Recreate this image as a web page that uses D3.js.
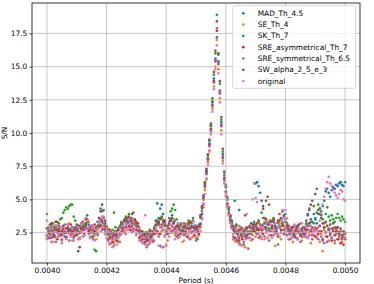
<!DOCTYPE html>
<html>
<head>
<meta charset="utf-8">
<script src="https://cdn.jsdelivr.net/npm/d3@7"></script>
<style>
  html, body { margin: 0; padding: 0; background: #fff; }
  svg { display: block; font-family: "DejaVu Sans", sans-serif; }
</style>
</head>
<body>
<div id="vis-scatter"></div>
<script>
// period grid: every series is sampled on the same periods
const periodStart = 0.004
const periodStep = 0.000005

const seriesNames = [
    "MAD_Th_4.5",
    "SE_Th_4",
    "SK_Th_7",
    "SRE_asymmetrical_Th_7",
    "SRE_symmetrical_Th_6.5",
    "SW_alpha_2_5_e_3",
    "original"
]

const madTh45 = [
    2.3, 2.6, 2.1, 2.9, 2.4, 2.2, 2.7, 2.5, 3.0, 2.3, 2.6, 2.8, 2.2, 2.5, 3.1, 2.7, 2.4, 2.9, 2.6, 2.3,
    2.5, 2.8, 3.0, 2.6, 3.2, 2.9, 3.5, 3.8, 3.1, 2.7, 3.0, 2.6, 2.4, 2.9, 3.3, 3.6, 4.1, 4.6, 4.2, 3.4,
    2.9, 2.4, 2.1, 2.5, 2.0, 2.3, 2.6, 2.2, 2.7, 2.9, 3.1, 2.8, 3.3, 3.5, 3.2, 3.6, 3.4, 3.0, 3.3, 3.1,
    3.0, 2.7, 2.5, 2.2, 2.4, 2.0, 2.3, 1.9, 2.2, 2.5, 2.1, 2.4, 2.7, 3.4, 4.7, 3.6, 4.3, 4.6, 3.9, 3.3,
    2.5, 2.8, 3.2, 3.5, 3.8, 3.3, 2.9, 2.6, 3.1, 2.8, 2.5, 2.7, 3.0, 2.6, 2.9, 3.2, 2.7, 3.0, 3.4, 2.9,
    2.9, 2.7, 3.1, 3.8, 4.5, 5.2, 6.2, 7.1, 8.0, 9.2, 10.6, 12.3, 14.1, 15.6, 17.2, 15.4, 13.2, 10.8, 8.4, 6.8,
    5.9, 5.0, 4.3, 3.7, 3.3, 3.0, 4.9, 3.1, 2.6, 4.2, 2.5, 2.8, 2.4, 2.7, 2.3, 2.6, 2.9, 3.2, 2.8, 3.1,
    6.2, 6.3, 6.0, 5.5, 4.9, 4.5, 3.2, 2.8, 3.1, 2.7, 3.3, 2.9, 3.4, 3.0, 2.6, 3.2, 2.9, 3.5, 3.1, 3.7,
    3.9, 3.2, 2.8, 2.5, 2.9, 2.6, 2.3, 2.7, 3.0, 2.6, 2.4, 2.8, 2.5, 2.9, 3.2, 3.8, 4.2, 3.5, 3.3, 3.9,
    3.5, 3.2, 3.9, 4.3, 4.1, 4.5, 4.9, 5.6, 5.8, 5.5, 5.2, 5.7, 5.9, 5.8, 6.1, 6.0, 6.2, 6.3, 6.1, 6.0,
    6.3
]

const seTh4 = [
    2.0, 2.7, 2.3, 1.8, 2.9, 2.5, 2.1, 3.0, 2.2, 2.6, 1.9, 2.4, 2.8, 2.1, 2.5, 3.2, 2.3, 1.9, 2.7, 2.4,
    2.6, 2.0, 2.9, 2.5, 2.2, 3.1, 3.6, 2.8, 3.3, 2.1, 2.5, 2.9, 2.3, 2.0, 2.7, 3.0, 3.4, 2.8, 3.7, 2.4,
    2.3, 2.8, 1.6, 2.0, 2.4, 1.7, 1.9, 2.5, 2.1, 1.8, 2.6, 3.1, 2.7, 2.4, 3.3, 2.9, 3.5, 2.6, 3.1, 3.4,
    3.1, 2.6, 2.9, 2.2, 1.8, 2.4, 1.6, 2.1, 2.5, 1.7, 2.0, 2.3, 1.9, 2.7, 3.2, 2.4, 2.9, 2.6, 3.4, 2.2,
    2.7, 1.9, 3.3, 2.6, 2.9, 3.5, 2.3, 2.8, 2.1, 3.0, 2.5, 1.8, 2.9, 2.4, 3.2, 2.1, 2.7, 3.3, 2.2, 2.6,
    2.1, 2.6, 2.3, 2.9, 3.6, 4.4, 5.7, 6.5, 7.8, 8.6, 10.1, 11.8, 13.5, 15.0, 17.0, 14.8, 12.6, 10.2, 7.9, 6.4,
    5.3, 4.5, 3.8, 3.3, 2.9, 2.0, 2.6, 1.8, 2.4, 3.0, 1.6, 2.2, 2.8, 1.4, 2.5, 2.1, 2.9, 1.9, 2.3, 2.7,
    2.2, 2.9, 2.4, 3.1, 2.0, 2.7, 3.3, 2.5, 2.1, 2.8, 3.4, 2.3, 2.6, 1.5, 2.9, 2.4, 3.2, 2.0, 2.7, 3.0,
    2.6, 3.1, 2.0, 2.5, 2.8, 1.8, 2.3, 2.9, 2.1, 2.6, 3.2, 1.9, 2.4, 2.7, 2.2, 3.0, 2.5, 1.7, 2.8, 2.3,
    2.9, 2.1, 2.6, 1.8, 2.4, 1.1, 2.7, 2.2, 3.0, 1.9, 2.5, 2.1, 2.8, 1.7, 2.4, 2.6, 2.0, 2.3, 1.8, 2.2,
    2.5
]

const skTh7 = [
    3.9, 2.8, 3.1, 2.7, 3.2, 2.9, 3.0, 3.3, 3.2, 3.5, 3.6, 4.0, 4.2, 4.4, 4.3, 4.5, 4.6, 4.6, 3.7, 3.4,
    3.1, 2.6, 2.9, 2.7, 3.0, 2.8, 3.2, 3.4, 2.9, 2.5, 2.6, 2.2, 1.2, 1.1, 2.4, 2.9, 3.1, 3.3, 3.0, 2.7,
    2.8, 2.6, 2.3, 2.4, 2.7, 4.0, 2.9, 2.5, 2.8, 3.0, 3.3, 3.0, 3.5, 3.7, 3.4, 3.9, 3.6, 3.2, 3.4, 3.3,
    3.2, 2.9, 2.6, 2.4, 2.6, 2.2, 2.5, 2.1, 2.4, 2.7, 2.3, 2.6, 2.9, 3.1, 3.4, 3.2, 3.6, 3.7, 3.4, 3.1,
    2.6, 3.0, 3.6, 4.1, 4.3, 4.6, 4.2, 3.5, 3.2, 2.9, 2.7, 2.9, 3.2, 2.8, 3.1, 3.4, 2.9, 3.2, 3.6, 3.0,
    3.0, 2.0, 2.9, 3.6, 4.3, 5.1, 6.1, 7.2, 8.3, 9.4, 10.5, 12.4, 14.4, 16.0, 18.9, 15.9, 13.7, 11.0, 8.6, 7.0,
    6.0, 5.0, 4.2, 3.7, 3.2, 2.7, 2.5, 2.8, 2.2, 1.9, 2.5, 2.2, 1.6, 2.3, 2.1, 2.6, 2.9, 2.4, 2.7, 3.3,
    3.0, 2.7, 3.4, 3.1, 4.0, 3.6, 3.2, 2.9, 3.3, 2.8, 3.4, 3.0, 3.6, 3.2, 2.8, 3.3, 3.0, 3.5, 3.2, 3.6,
    3.5, 3.0, 2.7, 2.4, 2.8, 2.5, 2.2, 2.6, 2.9, 2.5, 2.3, 2.7, 2.4, 2.8, 3.1, 2.7, 3.0, 3.3, 2.9, 3.2,
    3.6, 4.0, 4.6, 4.3, 3.8, 3.5, 3.2, 3.9, 4.4, 3.7, 3.4, 3.8, 3.5, 3.3, 3.6, 3.9, 3.6, 3.4, 3.7, 3.5,
    3.3
]

const sreAsymTh7 = [
    2.8, 2.1, 2.5, 3.1, 2.2, 2.7, 3.3, 2.0, 2.6, 2.9, 2.3, 3.0, 2.5, 2.1, 2.8, 2.4, 3.1, 2.6, 2.2, 2.9,
    2.3, 3.0, 2.5, 2.8, 3.3, 2.4, 3.0, 3.5, 2.6, 2.9, 2.2, 2.7, 3.1, 2.5, 2.9, 3.6, 3.0, 3.4, 2.8, 3.2,
    2.5, 2.0, 2.7, 2.2, 1.8, 2.5, 2.3, 1.9, 2.8, 2.4, 3.2, 2.6, 3.4, 2.9, 3.6, 3.0, 2.7, 3.3, 2.8, 3.5,
    2.7, 3.2, 2.1, 2.6, 2.0, 2.3, 1.8, 2.5, 1.9, 2.2, 2.6, 1.9, 2.4, 3.0, 2.6, 3.3, 2.4, 3.1, 2.7, 3.4,
    3.0, 2.4, 2.8, 3.4, 2.6, 3.2, 2.5, 3.0, 2.3, 2.7, 3.1, 2.4, 2.6, 3.0, 2.2, 2.8, 3.3, 2.5, 2.9, 2.3,
    2.7, 2.9, 2.4, 3.1, 3.9, 5.0, 6.0, 7.0, 8.1, 9.1, 10.3, 12.1, 13.9, 15.4, 17.7, 15.2, 13.0, 10.6, 8.2, 6.6,
    5.6, 4.7, 4.0, 3.5, 3.0, 2.8, 2.1, 2.5, 1.9, 2.7, 2.3, 2.0, 2.6, 2.2, 2.9, 2.4, 2.1, 2.8, 3.1, 2.6,
    2.5, 3.2, 2.7, 2.2, 3.0, 2.4, 2.9, 3.5, 2.6, 3.1, 2.3, 2.8, 3.3, 2.5, 2.9, 2.2, 3.4, 2.7, 3.0, 2.4,
    2.8, 2.3, 3.0, 2.6, 2.1, 2.9, 2.4, 2.7, 2.0, 3.1, 2.5, 2.2, 2.9, 2.4, 2.7, 2.1, 3.2, 2.6, 2.3, 2.8,
    2.2, 2.8, 2.4, 3.0, 2.6, 2.0, 2.9, 2.5, 2.2, 2.7, 2.4, 1.9, 2.6, 2.3, 2.8, 2.0, 2.4, 1.7, 2.1, 1.6,
    2.0
]

const sreSymTh65 = [
    2.2, 2.9, 2.6, 2.1, 2.4, 3.0, 1.8, 2.7, 2.3, 2.8, 2.0, 2.5, 3.1, 2.2, 2.6, 1.9, 2.8, 2.4, 2.1, 2.7,
    2.9, 2.4, 2.1, 3.2, 2.7, 2.3, 2.8, 3.3, 2.4, 2.7, 3.0, 2.0, 2.6, 2.9, 2.3, 3.1, 3.5, 2.7, 3.2, 2.5,
    2.8, 1.9, 2.4, 1.7, 2.2, 1.5, 2.1, 2.6, 1.8, 2.3, 2.8, 3.1, 2.5, 3.0, 2.7, 3.3, 2.9, 3.6, 2.6, 3.2,
    2.4, 2.9, 2.6, 1.9, 2.3, 1.7, 2.2, 1.4, 1.6, 2.0, 2.4, 1.8, 2.7, 2.5, 3.1, 2.2, 1.5, 2.9, 1.4, 3.2,
    1.5, 2.8, 3.3, 2.5, 3.0, 2.7, 3.4, 2.2, 2.9, 2.4, 3.2, 2.6, 2.3, 2.8, 3.1, 2.5, 2.0, 2.9, 2.6, 3.0,
    1.9, 2.5, 3.0, 3.2, 4.1, 4.6, 5.9, 6.9, 8.0, 9.0, 10.2, 12.0, 13.8, 15.5, 17.9, 15.3, 13.1, 10.5, 8.1, 6.5,
    5.5, 4.6, 3.9, 3.4, 2.9, 2.2, 2.8, 2.0, 2.5, 1.7, 2.9, 2.3, 1.8, 2.6, 2.1, 1.3, 2.4, 2.8, 2.0, 3.0,
    2.9, 2.4, 2.1, 2.8, 2.5, 3.1, 2.2, 2.7, 3.2, 1.9, 2.6, 3.0, 2.3, 2.8, 2.4, 1.6, 2.9, 2.5, 3.3, 2.7,
    2.4, 2.9, 2.6, 2.0, 2.7, 2.3, 3.0, 2.1, 2.8, 2.5, 1.8, 2.6, 2.9, 2.2, 2.5, 3.0, 2.3, 2.7, 2.0, 2.6,
    2.7, 2.3, 2.0, 2.6, 2.2, 1.9, 1.7, 2.5, 1.8, 2.8, 2.3, 2.1, 2.7, 1.9, 2.4, 2.9, 2.2, 2.6, 2.0, 2.4,
    2.1
]

const swAlpha25e3 = [
    2.8, 2.5, 2.4, 3.2, 2.6, 2.3, 2.9, 2.7, 2.8, 2.4, 2.6, 2.7, 2.5, 2.8, 2.9, 2.6, 2.7, 2.5, 2.8, 2.6,
    2.7, 1.1, 1.4, 2.6, 2.9, 2.7, 3.1, 3.3, 2.8, 2.6, 2.7, 2.5, 2.6, 2.8, 3.0, 3.3, 4.3, 4.1, 3.6, 3.0,
    3.0, 2.6, 2.3, 2.5, 2.2, 2.4, 2.6, 2.3, 2.7, 2.9, 3.2, 2.9, 3.4, 3.6, 3.3, 3.7, 3.5, 3.9, 4.0, 3.4,
    3.3, 3.0, 2.7, 2.3, 2.5, 2.1, 2.4, 2.0, 2.3, 2.6, 2.2, 2.5, 2.8, 3.0, 3.3, 3.1, 3.5, 3.6, 3.3, 3.0,
    2.4, 2.7, 3.1, 3.4, 3.6, 3.2, 2.8, 2.5, 3.0, 2.7, 2.4, 2.6, 2.9, 2.5, 2.8, 3.1, 2.6, 2.9, 3.3, 2.8,
    2.8, 2.6, 3.0, 3.7, 4.4, 5.3, 6.3, 7.3, 8.4, 9.5, 10.7, 12.6, 14.6, 16.2, 18.4, 16.0, 13.9, 11.2, 8.8, 7.1,
    6.1, 5.2, 4.4, 3.8, 3.4, 2.9, 2.6, 3.0, 2.4, 2.1, 2.7, 2.3, 2.5, 3.8, 2.8, 2.4, 3.0, 2.6, 2.9, 2.7,
    3.1, 2.8, 3.3, 3.0, 2.7, 4.3, 3.6, 4.9, 5.2, 4.6, 3.3, 3.0, 3.5, 3.2, 2.8, 3.4, 3.9, 3.6, 4.1, 3.8,
    3.3, 3.0, 2.7, 2.4, 2.8, 2.5, 2.2, 2.6, 2.9, 2.5, 2.3, 2.7, 2.4, 2.8, 3.4, 3.9, 4.3, 4.6, 4.9, 4.5,
    5.4, 5.8, 4.2, 3.9, 3.6, 3.2, 2.9, 3.3, 3.0, 2.7, 3.1, 2.8, 3.2, 2.9, 2.6, 2.9, 2.5, 2.8, 2.3, 2.6,
    2.4
]

const original = [
    3.4, 2.2, 2.8, 2.5, 1.8, 2.6, 3.0, 2.1, 2.4, 2.9, 1.7, 2.3, 2.7, 2.0, 3.1, 2.4, 2.2, 2.8, 1.9, 2.5,
    2.5, 2.9, 2.0, 2.6, 3.2, 2.3, 2.7, 3.4, 2.9, 2.2, 2.6, 3.0, 1.9, 2.4, 2.8, 3.3, 2.6, 3.7, 2.9, 2.4,
    2.1, 2.6, 1.7, 2.3, 1.4, 2.0, 2.5, 1.6, 2.2, 2.8, 2.4, 3.0, 2.6, 3.2, 2.7, 3.5, 3.1, 2.5, 3.3, 2.8,
    2.3, 2.8, 1.9, 2.4, 1.7, 2.1, 3.8, 1.5, 2.2, 1.8, 2.5, 2.0, 2.6, 2.9, 2.4, 1.5, 3.0, 1.4, 2.7, 2.3,
    1.6, 2.7, 2.2, 3.1, 2.5, 2.9, 2.0, 2.6, 3.2, 2.2, 2.8, 2.4, 1.9, 2.7, 3.0, 2.3, 2.6, 2.1, 3.3, 2.5,
    2.6, 2.2, 2.8, 2.6, 3.5, 4.7, 5.4, 6.6, 7.6, 8.7, 9.9, 11.6, 13.3, 14.8, 16.6, 14.5, 12.3, 9.9, 7.7, 6.2,
    5.2, 4.4, 3.8, 3.2, 2.8, 2.4, 1.9, 2.7, 2.2, 1.6, 2.6, 1.5, 2.3, 2.0, 3.9, 2.5, 2.1, 2.7, 5.0, 6.2,
    5.1, 4.8, 2.5, 3.0, 2.2, 2.8, 2.0, 3.3, 2.6, 2.3, 3.1, 2.1, 2.7, 3.2, 2.4, 2.9, 2.2, 3.4, 4.2, 3.6,
    4.2, 3.6, 2.3, 2.9, 2.1, 2.6, 3.1, 2.4, 2.0, 2.8, 2.5, 3.2, 2.2, 2.6, 2.9, 2.1, 2.7, 3.0, 2.4, 2.8,
    2.6, 2.3, 2.9, 3.4, 4.0, 4.6, 5.2, 5.8, 6.3, 6.7, 6.2, 6.0, 5.7, 5.5, 5.3, 5.1, 5.4, 5.7, 5.6, 5.0,
    4.9
]

const xTicks = [0.0040, 0.0042, 0.0044, 0.0046, 0.0048, 0.0050]
const yTicks = [2.5, 5.0, 7.5, 10.0, 12.5, 15.0, 17.5]

// matplotlib tab10
const colors = ["#1f77b4", "#ff7f0e", "#2ca02c", "#d62728", "#9467bd", "#8c564b", "#e377c2"]

const drawScatter = (id) => {
    const width = 374
    const height = 284
    const margin = { top: 3, right: 14, bottom: 21, left: 32 }
    const fontSize = 7.4

    const svg = d3
        .select(`#${id}`)
        .append("svg")
        .attr("width", width)
        .attr("height", height)

    const allSeries = [madTh45, seTh4, skTh7, sreAsymTh7, sreSymTh65, swAlpha25e3, original]
    const periods = madTh45.map((_, i) => periodStart + i * periodStep)

    // 5% padding on both axes, like matplotlib's autoscale
    const xExtent = d3.extent(periods)
    const xPad = (xExtent[1] - xExtent[0]) * 0.05
    const yExtent = d3.extent(allSeries.flat())
    const yPad = (yExtent[1] - yExtent[0]) * 0.05

    const x = d3
        .scaleLinear()
        .domain([xExtent[0] - xPad, xExtent[1] + xPad])
        .range([margin.left, width - margin.right])

    const y = d3
        .scaleLinear()
        .domain([yExtent[0] - yPad, yExtent[1] + yPad])
        .range([height - margin.bottom, margin.top])

    // points, one group per series (later series on top)
    allSeries.forEach((values, s) => {
        svg.append("g")
            .selectAll("circle")
            .data(values)
            .enter()
            .append("circle")
            .attr("cx", (d, i) => x(periods[i]))
            .attr("cy", d => y(d))
            .attr("r", 1.35)
            .attr("fill", colors[s])
    })

    // grid sits above the points
    const grid = svg.append("g").attr("stroke", "#b0b0b0").attr("stroke-width", 0.7)
    grid.selectAll("line.gx")
        .data(xTicks)
        .enter()
        .append("line")
        .attr("x1", d => x(d))
        .attr("x2", d => x(d))
        .attr("y1", margin.top)
        .attr("y2", height - margin.bottom)
    grid.selectAll("line.gy")
        .data(yTicks)
        .enter()
        .append("line")
        .attr("x1", margin.left)
        .attr("x2", width - margin.right)
        .attr("y1", d => y(d))
        .attr("y2", d => y(d))

    // axes
    const xAxis = svg
        .append("g")
        .attr("transform", `translate(0,${height - margin.bottom})`)
        .call(d3.axisBottom(x).tickValues(xTicks).tickFormat(d3.format(".4f")).tickSize(2.6).tickPadding(2.2))
    const yAxis = svg
        .append("g")
        .attr("transform", `translate(${margin.left},0)`)
        .call(d3.axisLeft(y).tickValues(yTicks).tickFormat(d3.format(".1f")).tickSize(2.6).tickPadding(2.2))

    ;[xAxis, yAxis].forEach(a => {
        a.select(".domain").remove()
        a.selectAll("text").style("font-size", `${fontSize}px`).attr("fill", "#000")
        a.selectAll("line").attr("stroke", "#000").attr("stroke-width", 0.7)
        a.attr("font-family", null)
    })

    // frame
    svg.append("rect")
        .attr("x", margin.left)
        .attr("y", margin.top)
        .attr("width", width - margin.left - margin.right)
        .attr("height", height - margin.top - margin.bottom)
        .attr("fill", "none")
        .attr("stroke", "#000")
        .attr("stroke-width", 0.8)

    // axis labels
    svg.append("text")
        .attr("x", (margin.left + width - margin.right) / 2)
        .attr("y", height - 1.5)
        .attr("text-anchor", "middle")
        .style("font-size", `${fontSize}px`)
        .text("Period (s)")

    svg.append("text")
        .attr("transform", `translate(6.8,${(margin.top + height - margin.bottom) / 2}) rotate(-90)`)
        .attr("text-anchor", "middle")
        .style("font-size", `${fontSize}px`)
        .text("S/N")

    // legend
    const legend = svg.append("g").attr("transform", "translate(232.7,5.7)")
    legend.append("rect")
        .attr("width", 123)
        .attr("height", 82.6)
        .attr("rx", 2)
        .attr("fill", "#fff")
        .attr("fill-opacity", 0.8)
        .attr("stroke", "#cccccc")
        .attr("stroke-width", 0.8)

    const rows = legend
        .selectAll("g.row")
        .data(seriesNames)
        .enter()
        .append("g")
        .attr("transform", (d, i) => `translate(0,${7.6 + i * 11.3})`)

    rows.append("circle")
        .attr("cx", 10.6)
        .attr("r", 1.35)
        .attr("fill", (d, i) => colors[i])

    rows.append("text")
        .attr("x", 25)
        .attr("dy", "0.35em")
        .style("font-size", `${fontSize}px`)
        .text(d => d)
}

drawScatter("vis-scatter")
</script>
</body>
</html>
